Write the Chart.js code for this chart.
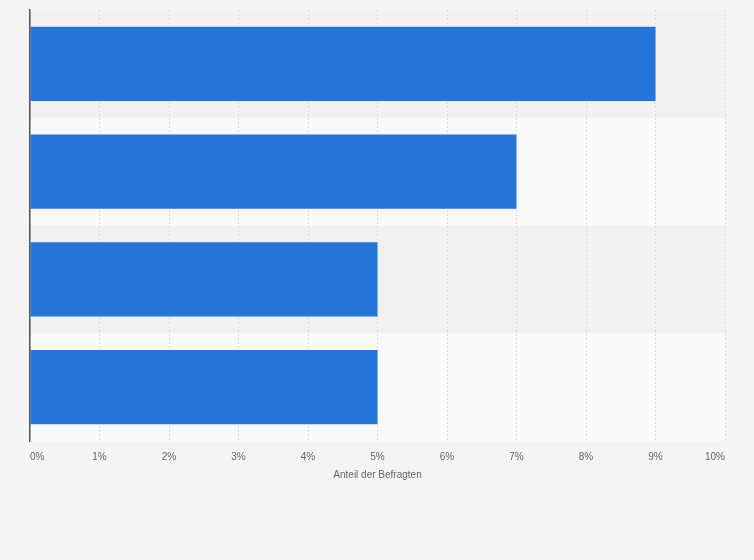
<!DOCTYPE html>
<html>
<head>
<meta charset="utf-8">
<script src="https://cdn.jsdelivr.net/npm/chart.js@4"></script>
<style>
  html, body { margin: 0; padding: 0; background: #f4f4f4; }
  #wrap { width: 754px; height: 560px; }
</style>
</head>
<body>
<div id="wrap"><canvas id="chart"></canvas></div>
<script>
const categories = ['1', '2', '3', '4'];
const shares = [9, 7, 5, 5];
const xTicks = [0, 1, 2, 3, 4, 5, 6, 7, 8, 9, 10];
const axisTitle = 'Anteil der Befragten';

// alternating row bands behind the bars
const bandPlugin = {
  id: 'bands',
  beforeDraw(chart) {
    const { ctx, chartArea, scales } = chart;
    const y = scales.y;
    const n = categories.length;
    ctx.save();
    for (let i = 0; i < n; i++) {
      const top = i === 0 ? chartArea.top : (y.getPixelForValue(i - 1) + y.getPixelForValue(i)) / 2;
      const bottom = i === n - 1 ? chartArea.bottom : (y.getPixelForValue(i) + y.getPixelForValue(i + 1)) / 2;
      ctx.fillStyle = i % 2 === 0 ? '#f1f1f1' : '#f9f9f9';
      ctx.fillRect(chartArea.left, top, chartArea.right - chartArea.left + 1, bottom - top);
    }
    ctx.restore();
  }
};

new Chart(document.getElementById('chart').getContext('2d'), {
  type: 'bar',
  data: {
    labels: categories,
    datasets: [{
      data: shares,
      backgroundColor: '#2574d9',
      categoryPercentage: 1,
      barPercentage: 0.69
    }]
  },
  options: {
    indexAxis: 'y',
    responsive: true,
    maintainAspectRatio: false,
    animation: false,
    layout: { padding: { left: 30, right: 29, top: 10, bottom: 79 } },
    plugins: {
      legend: { display: false },
      tooltip: { enabled: false }
    },
    scales: {
      x: {
        min: 0,
        max: 10,
        afterBuildTicks: axis => { axis.ticks = xTicks.map(v => ({ value: v })); },
        ticks: {
          callback: v => v + '%',
          align: 'inner',
          color: '#666',
          padding: 10,
          font: { family: 'Arial, "Liberation Sans", sans-serif', size: 10 }
        },
        grid: { color: '#dcdcdc', drawTicks: false },
        border: { display: false, dash: [2, 2] },
        title: {
          display: true,
          text: axisTitle,
          color: '#666',
          padding: { top: -4, bottom: 0 },
          font: { family: 'Arial, "Liberation Sans", sans-serif', size: 10 }
        }
      },
      y: {
        ticks: { display: false },
        grid: { display: false, drawTicks: false },
        border: { display: true, color: '#555', width: 1.5 },
        afterFit: axis => { axis.width = 0; }
      }
    }
  },
  plugins: [bandPlugin]
});
</script>
</body>
</html>
